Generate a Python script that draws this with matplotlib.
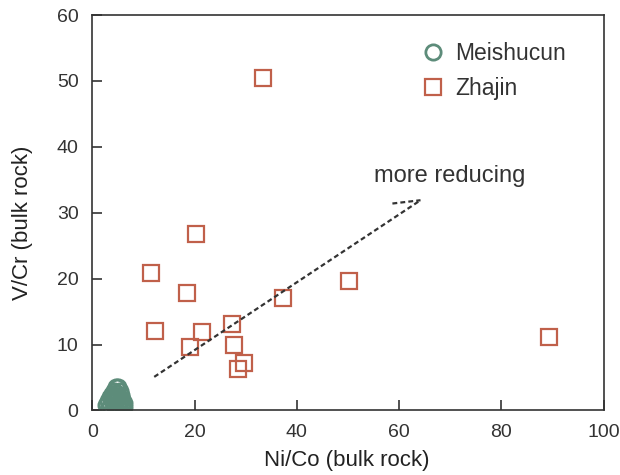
import matplotlib
matplotlib.use("Agg")
import matplotlib.pyplot as plt

plt.rcParams['font.family'] = ['Liberation Sans', 'DejaVu Sans']

# Data
zhajin_x = [33.4, 20.2, 11.4, 50.2, 18.6, 37.3, 12.3, 21.4, 27.4, 19.1, 27.8, 29.6, 28.5, 89.3]
zhajin_y = [50.4, 26.8, 20.9, 19.7, 17.9, 17.0, 12.1, 11.9, 13.1, 9.6, 10.0, 7.2, 6.3, 11.1]

meishucun_x = [4.6, 5.0, 4.2, 5.4, 3.8, 4.6, 5.6, 3.4, 4.2, 5.0, 5.8, 3.0, 3.8,
               4.6, 5.4, 6.1, 2.7, 3.4, 4.2, 5.0, 5.7, 6.2, 3.0, 4.6, 5.4]
meishucun_y = [3.6, 3.5, 3.0, 3.0, 2.5, 2.6, 2.4, 2.0, 2.0, 2.0, 1.8, 1.4, 1.4,
               1.4, 1.3, 1.2, 0.8, 0.7, 0.8, 0.7, 0.8, 0.6, 0.3, 0.3, 0.2]

arrow_start = (12.1, 5.1)
arrow_end = (64.2, 31.9)
head_end = (58.7, 31.4)
arrow_text = 'more reducing'
arrow_text_pos = (55.0, 35.5)

green = '#5d8c7a'
red = '#c0604a'
dark = '#333333'

fig = plt.figure(figsize=(6.2, 4.75), dpi=100)
ax = fig.add_axes([0.149, 0.1358, 0.8244, 0.8326])

ax.plot(meishucun_x, meishucun_y, linestyle='none', marker='o', markersize=11,
        markerfacecolor='none', markeredgecolor=green, markeredgewidth=2.0,
        label='Meishucun', clip_on=True)
ax.plot(zhajin_x, zhajin_y, linestyle='none', marker='s', markersize=11,
        markerfacecolor='none', markeredgecolor=red, markeredgewidth=1.6,
        label='Zhajin')

ax.plot([arrow_start[0], arrow_end[0]], [arrow_start[1], arrow_end[1]],
        linestyle=(0, (2.2, 1.4)), color=dark, linewidth=1.6)
ax.plot([head_end[0], arrow_end[0]], [head_end[1], arrow_end[1]],
        linestyle=(0, (2.2, 1.4)), color=dark, linewidth=1.6)
ax.text(arrow_text_pos[0], arrow_text_pos[1], arrow_text, fontsize=17,
        color=dark, va='center', ha='left')

ax.set_xlim(0, 100)
ax.set_ylim(0, 60)
ax.set_xticks([0, 20, 40, 60, 80, 100])
ax.set_yticks([0, 10, 20, 30, 40, 50, 60])
ax.tick_params(direction='in', length=7, width=1.2, labelsize=14, colors=dark,
               top=False, right=False, pad=10)
for s in ax.spines.values():
    s.set_color(dark)
    s.set_linewidth(1.2)

ax.set_xlabel('Ni/Co (bulk rock)', fontsize=16, color='#222222')
ax.set_ylabel('V/Cr (bulk rock)', fontsize=16, color='#222222')
ax.xaxis.set_label_coords(0.497, -0.1)
ax.yaxis.set_label_coords(-0.117, 0.474)

leg = ax.legend(loc='upper left', bbox_to_anchor=(0.594, 0.985), frameon=False,
                fontsize=16.5, handletextpad=0.3, labelspacing=0.55,
                handlelength=1.4, markerscale=1.0)
for t in leg.get_texts():
    t.set_color(dark)

fig.savefig('out.png', dpi=100)
